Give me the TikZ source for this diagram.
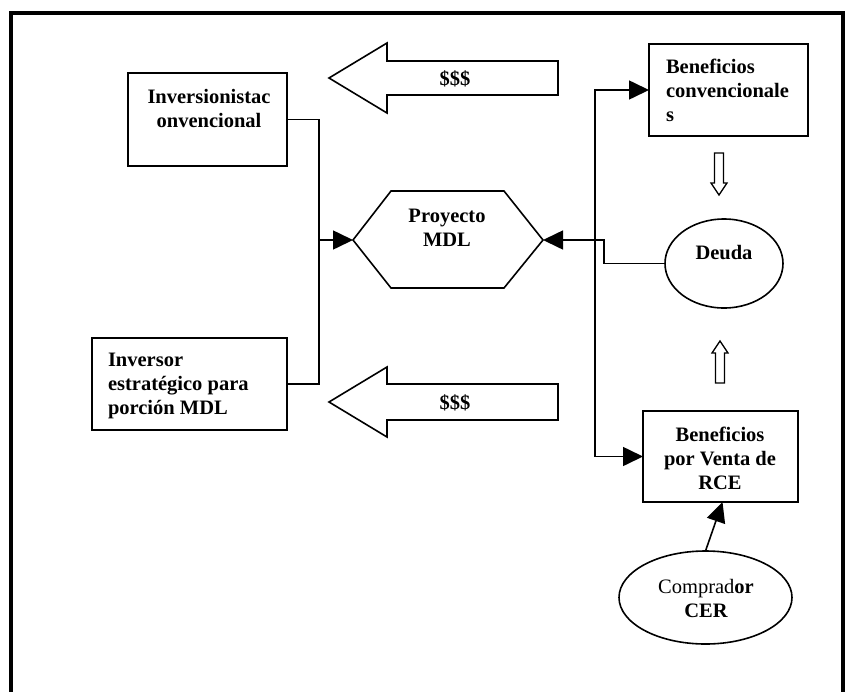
\documentclass[tikz,border=0pt]{standalone}
\usepackage{fontspec}
\setmainfont{Liberation Serif}
\usetikzlibrary{arrows.meta,shapes.geometric}
\begin{document}
\begin{tikzpicture}[x=1pt,y=-1pt,
  txt/.style={font=\fontsize{20.5}{24}\selectfont\bfseries, inner sep=0pt, outer sep=0pt, align=center},
  txtl/.style={txt, align=left, anchor=west},
  boxn/.style={draw, line width=1.6pt, inner sep=0pt, outer sep=0pt},
  elln/.style={draw, ellipse, line width=1.6pt, inner sep=0pt, outer sep=0pt},
  conn/.style={line width=1.6pt},
  arr/.style={conn, -{Triangle[length=20pt,width=19pt]}},
  bigarrow/.style={draw, line width=1.6pt, line join=miter},
  frame/.style={line width=4pt}]
\useasboundingbox (0,0) rectangle (846,691);
\fill[white] (0,0) rectangle (846,691);
% frame
\draw[frame] (10.5,700) -- (10.5,12.5) -- (843,12.5) -- (843,700);

% boxes
\node[boxn, minimum width=159pt, minimum height=93pt] (inv1) at (207.5,119.5) {};
\node[txt] (inv1t) at (209,108) {Inversionistac\\onvencional};

\node[boxn, minimum width=195pt, minimum height=92pt] (inv2) at (189.5,384) {};
\node[txtl] (inv2t) at (108,386) {Inversor\\estratégico para\\porción MDL};

\node[boxn, minimum width=159pt, minimum height=92pt] (bc) at (728.5,90) {};
\node[txtl] (bct) at (666,90.5) {Beneficios\\convencionale\\s};

\node[boxn, minimum width=155pt, minimum height=91pt] (br) at (720.5,456.5) {};
\node[txt] (brt) at (720,458.5) {Beneficios\\por Venta de\\RCE};

% ellipses
\node[elln, minimum width=118pt, minimum height=89pt] (deuda) at (724,263.5) {};
\node[txt] (deudat) at (724,253) {Deuda};

\node[elln, minimum width=173pt, minimum height=93pt] (comp) at (705.5,597.5) {};
\node[txt] (compt) at (706,598.5) {{\mdseries Comprad}or\\CER};

% hexagon
\coordinate (hexL) at (353,240);
\coordinate (hexR) at (543,240);
\draw[line width=1.6pt, line join=miter] (hexL) -- (391,191) -- (504,191) -- (hexR) -- (504,288) -- (391,288) -- cycle;
\node[txt] (hext) at (447,227.5) {Proyecto\\MDL};

% big $$$ arrows
\draw[bigarrow] (329,78) -- (387,43) -- (387,61) -- (558,61) -- (558,95) -- (387,95) -- (387,113) -- cycle;
\node[txt] (d1) at (455,79) {\$\$\$};
\draw[bigarrow] (329,402) -- (387,367) -- (387,384) -- (558,384) -- (558,420) -- (387,420) -- (387,437) -- cycle;
\node[txt] (d2) at (455,403) {\$\$\$};

% hollow arrows
\draw[line width=1.3pt, line join=miter] (714.5,153) -- (723.5,153) -- (723.5,183) -- (727,183) -- (719,195) -- (711,183) -- (714.5,183) -- cycle;
\draw[line width=1.3pt, line join=miter] (715.5,383) -- (724.5,383) -- (724.5,353) -- (728,353) -- (720,341) -- (712,353) -- (715.5,353) -- cycle;

% connectors left
\coordinate (jL) at (319,240);
\draw[conn] (inv1.east) -| (jL);
\draw[conn] (inv2.east) -| (jL);
\draw[arr] (jL) -- (hexL);

% connectors right
\coordinate (jR) at (595,240);
\coordinate (jD) at (604,240);
\draw[arr] (jR) -- (hexR);
\draw[arr] (jR) |- (bc.west);
\draw[arr] (jR) |- (br.west);
\draw[conn] (jR) -- (jD) |- (deuda.west);
\draw[arr] (comp.north) -- ([xshift=2pt]br.south);
\end{tikzpicture}
\end{document}
